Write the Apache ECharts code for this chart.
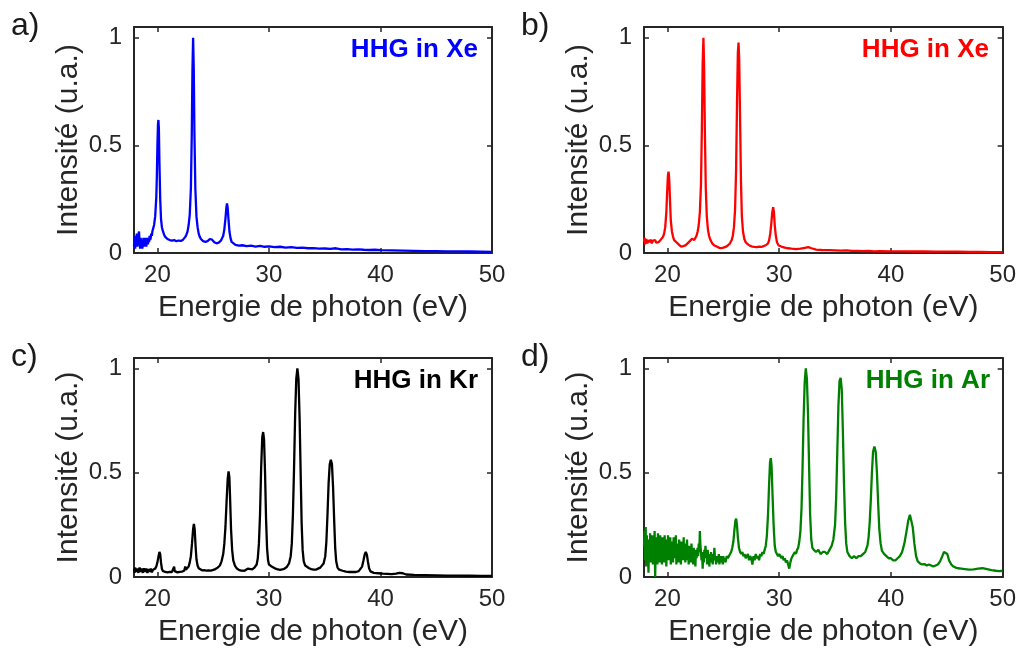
<!DOCTYPE html>
<html>
<head>
<meta charset="utf-8">
<script src="https://cdn.jsdelivr.net/npm/echarts@6/dist/echarts.min.js"></script>
<style>
html,body{margin:0;padding:0;background:#fff;}
#chart{width:1019px;height:648px;}
</style>
</head>
<body>
<div id="chart"></div>
<script>
// ---- Data ----
const panelLetters = ['a)', 'b)', 'c)', 'd)'];
const panelTitles = ['HHG in Xe', 'HHG in Xe', 'HHG in Kr', 'HHG in Ar'];
const panelColors = ['#0000ff', '#ff0000', '#000000', '#008000'];
const xTickValues = [20, 30, 40, 50];
const yTickValues = [0, 0.5, 1];
const xAxisTitle = 'Energie de photon (eV)';
const yAxisTitle = 'Intensité (u.a.)';

// a) HHG in Xe (blue)
const spectrumXeBlue = [
[17.9,0.03],[17.95,0.08],[18.0,0.02],[18.05,0.07],[18.1,0.04],[18.15,0.09],[18.2,0.03],[18.25,0.06],[18.3,0.08],[18.35,0.1],[18.4,0.05],[18.45,0.02],[18.5,0.07],[18.55,0.04],[18.6,0.06],[18.65,0.02],[18.7,0.05],[18.75,0.07],[18.8,0.03],[18.85,0.06],[18.9,0.04],[18.95,0.07],[19.0,0.03],[19.05,0.05],[19.1,0.07],[19.15,0.04],[19.2,0.06],[19.25,0.05],[19.3,0.08],[19.35,0.06],[19.4,0.07],[19.45,0.09],[19.5,0.08],[19.55,0.1],
[19.6,0.11],[19.7,0.13],[19.8,0.17],[19.9,0.26],[19.95,0.36],[20.0,0.5],[20.05,0.6],[20.09,0.618],[20.13,0.58],[20.18,0.42],[20.25,0.25],[20.32,0.16],[20.4,0.12],[20.5,0.1],[20.6,0.085],[20.7,0.075],
[20.8,0.07],[20.9,0.065],[21.0,0.072],[21.1,0.06],[21.2,0.068],[21.3,0.058],[21.4,0.065],[21.5,0.06],[21.6,0.066],[21.7,0.055],[21.8,0.062],[21.9,0.058],[22.0,0.064],[22.1,0.056],[22.2,0.06],[22.3,0.062],[22.4,0.068],[22.5,0.075],[22.6,0.085],[22.7,0.1],[22.8,0.13],[22.9,0.18],[23.0,0.3],[23.08,0.55],[23.14,0.85],[23.2,1.0],[23.26,0.85],[23.32,0.55],[23.4,0.3],[23.5,0.17],[23.6,0.12],[23.7,0.09],[23.8,0.075],[23.9,0.065],
[24.0,0.06],[24.1,0.055],[24.2,0.05],[24.3,0.052],[24.4,0.048],[24.5,0.055],[24.6,0.06],[24.7,0.065],[24.8,0.068],[24.9,0.062],[25.0,0.058],[25.1,0.05],[25.2,0.052],[25.3,0.045],[25.4,0.05],[25.5,0.048],[25.6,0.052],[25.7,0.058],[25.8,0.065],[25.9,0.08],[26.0,0.11],[26.1,0.16],[26.18,0.21],[26.24,0.23],[26.3,0.21],[26.38,0.15],[26.46,0.1],[26.55,0.07],[26.65,0.052],[26.8,0.045],
[27.0,0.038],[27.3,0.034],[27.6,0.036],[28.0,0.032],[28.4,0.034],[28.8,0.03],[29.2,0.033],[29.6,0.029],[30.0,0.031],[30.5,0.027],[31.0,0.029],[31.5,0.025],[32.0,0.027],[32.5,0.024],[33.0,0.025],[33.5,0.022],[34.0,0.023],[34.5,0.02],[35.0,0.021],[35.5,0.019],[36.0,0.022],[36.5,0.017],[37.0,0.018],[37.5,0.016],[38.0,0.017],[38.5,0.015],[39.0,0.014],[39.5,0.015],[40.0,0.013],[41.0,0.012],[42.0,0.011],[43.0,0.01],[44.0,0.009],[45.0,0.009],[46.0,0.008],[47.0,0.008],[48.0,0.007],[49.0,0.006],[50.0,0.005]
];

// b) HHG in Xe (red)
const spectrumXeRed = [
[17.9,0.05],[17.95,0.07],[18.0,0.04],[18.1,0.065],[18.2,0.045],[18.3,0.06],[18.4,0.05],[18.5,0.062],[18.6,0.045],[18.7,0.058],[18.8,0.05],[18.9,0.06],[19.0,0.048],[19.1,0.057],[19.2,0.05],[19.3,0.058],[19.4,0.062],[19.5,0.068],[19.6,0.075],[19.7,0.09],[19.8,0.12],[19.9,0.19],[19.97,0.28],[20.04,0.36],[20.1,0.378],[20.16,0.34],[20.23,0.24],[20.3,0.15],[20.4,0.1],[20.5,0.075],[20.6,0.06],
[20.7,0.055],[20.8,0.05],[20.9,0.045],[21.0,0.04],[21.1,0.035],[21.2,0.03],[21.3,0.028],[21.4,0.032],[21.5,0.03],[21.6,0.035],[21.7,0.04],[21.8,0.045],[21.9,0.05],[22.0,0.055],[22.1,0.06],[22.2,0.066],[22.3,0.058],[22.4,0.06],[22.5,0.068],[22.6,0.08],[22.7,0.1],[22.8,0.13],[22.9,0.19],[23.0,0.32],[23.08,0.58],[23.15,0.88],[23.22,1.0],[23.28,0.86],[23.35,0.56],[23.43,0.3],[23.52,0.17],[23.62,0.11],[23.72,0.08],[23.85,0.06],
[24.0,0.045],[24.2,0.035],[24.4,0.03],[24.6,0.025],[24.8,0.022],[25.0,0.025],[25.2,0.028],[25.4,0.035],[25.6,0.045],[25.75,0.06],[25.85,0.08],[25.95,0.12],[26.05,0.2],[26.14,0.38],[26.22,0.68],[26.3,0.93],[26.36,0.978],[26.42,0.9],[26.5,0.62],[26.58,0.33],[26.66,0.17],[26.76,0.1],[26.88,0.065],[27.0,0.05],
[27.2,0.04],[27.4,0.033],[27.6,0.03],[27.8,0.028],[28.0,0.027],[28.2,0.03],[28.4,0.028],[28.6,0.032],[28.8,0.036],[29.0,0.045],[29.1,0.06],[29.2,0.09],[29.3,0.14],[29.38,0.19],[29.46,0.213],[29.53,0.19],[29.6,0.13],[29.7,0.08],[29.8,0.05],[29.95,0.035],
[30.2,0.03],[30.5,0.025],[30.8,0.022],[31.1,0.02],[31.5,0.018],[31.9,0.02],[32.3,0.024],[32.6,0.027],[32.9,0.022],[33.3,0.016],[33.8,0.014],[34.5,0.013],[35.0,0.012],[35.5,0.011],[36.0,0.012],[36.5,0.01],[37.0,0.01],[37.5,0.009],[38.0,0.01],[38.5,0.008],[39.0,0.009],[40.0,0.008],[41.0,0.008],[42.0,0.007],[43.0,0.007],[44.0,0.006],[45.0,0.006],[46.0,0.006],[47.0,0.005],[48.0,0.005],[49.0,0.004],[50.0,0.004]
];

// c) HHG in Kr (black)
const spectrumKr = [
[17.9,0.04],[17.95,0.02],[18.0,0.045],[18.1,0.025],[18.2,0.04],[18.3,0.02],[18.4,0.045],[18.5,0.025],[18.6,0.04],[18.7,0.02],[18.8,0.042],[18.9,0.025],[19.0,0.04],[19.1,0.02],[19.2,0.038],[19.3,0.025],[19.4,0.04],[19.5,0.022],[19.6,0.035],[19.7,0.03],[19.8,0.04],[19.9,0.05],[20.0,0.07],[20.1,0.1],[20.18,0.12],[20.25,0.11],[20.32,0.07],[20.4,0.04],[20.5,0.028],[20.6,0.035],[20.7,0.025],[20.8,0.03],[20.9,0.022],[21.0,0.03],[21.1,0.025],[21.2,0.032],[21.3,0.024],[21.4,0.03],[21.5,0.05],[21.55,0.028],[21.7,0.03],[21.8,0.022],[21.9,0.028],[22.0,0.025],[22.1,0.03],[22.2,0.026],[22.3,0.035],[22.4,0.03],[22.5,0.05],[22.55,0.035],[22.7,0.04],[22.8,0.05],[22.9,0.07],[23.0,0.1],[23.1,0.16],[23.2,0.23],[23.27,0.255],[23.34,0.23],[23.42,0.15],[23.5,0.085],[23.6,0.055],[23.7,0.042],
[23.8,0.037],[24.0,0.032],[24.2,0.033],[24.4,0.03],[24.6,0.032],[24.8,0.031],[25.0,0.034],[25.2,0.038],[25.4,0.045],[25.6,0.055],[25.75,0.075],[25.9,0.11],[26.0,0.16],[26.1,0.24],[26.2,0.36],[26.3,0.47],[26.38,0.506],[26.45,0.48],[26.52,0.37],[26.6,0.23],[26.7,0.13],[26.8,0.08],[26.95,0.055],[27.1,0.042],
[27.3,0.034],[27.5,0.031],[27.8,0.03],[28.1,0.04],[28.2,0.032],[28.5,0.036],[28.7,0.045],[28.9,0.06],[29.0,0.09],[29.1,0.16],[29.2,0.3],[29.3,0.52],[29.4,0.67],[29.48,0.695],[29.56,0.66],[29.65,0.5],[29.74,0.28],[29.83,0.14],[29.92,0.08],[30.0,0.06],[30.2,0.052],[30.4,0.046],[30.6,0.04],[30.8,0.036],[31.0,0.034],[31.2,0.036],[31.4,0.04],[31.6,0.048],[31.8,0.065],[31.95,0.1],[32.05,0.16],[32.15,0.3],[32.25,0.52],[32.35,0.78],[32.45,0.95],[32.55,1.0],[32.65,0.95],[32.75,0.76],[32.85,0.48],[32.93,0.26],[33.02,0.13],[33.12,0.075],[33.25,0.055],[33.4,0.047],[33.6,0.042],[33.8,0.038],[34.0,0.035],[34.2,0.035],[34.4,0.04],[34.6,0.045],[34.75,0.052],[34.9,0.065],[35.05,0.1],[35.15,0.17],[35.25,0.3],[35.35,0.45],[35.45,0.54],[35.55,0.5625],[35.65,0.54],[35.75,0.43],[35.85,0.27],[35.94,0.14],[36.03,0.075],[36.15,0.045],[36.3,0.035],[36.6,0.03],[36.9,0.026],[37.2,0.024],[37.5,0.025],[37.8,0.024],[38.05,0.028],[38.2,0.035],[38.35,0.05],[38.48,0.08],[38.58,0.107],[38.68,0.12],[38.78,0.107],[38.88,0.072],[38.98,0.042],[39.1,0.027],[39.4,0.02],[39.8,0.018],[40.2,0.016],[40.6,0.015],[41.0,0.014],[41.4,0.016],[41.7,0.02],[41.85,0.022],[42.0,0.018],[42.3,0.012],[43.0,0.01],[44.0,0.009],[45.0,0.008],[46.0,0.007],[47.0,0.007],[48.0,0.006],[49.0,0.005],[50.0,0.005]
];

// d) HHG in Ar (green)
const spectrumAr = [
[17.9,0.15],[17.96,0.22],[18.0,0.08],[18.05,0.24],[18.1,0.05],[18.15,0.2],[18.2,0.1],[18.25,0.18],[18.3,0.02],[18.35,0.16],[18.4,0.08],[18.45,0.21],[18.5,0.07],[18.55,0.17],[18.6,0.12],[18.65,0.2],[18.7,0.06],[18.75,0.15],[18.8,0.09],[18.85,0.22],[18.9,0.0],[18.95,0.14],[19.0,0.1],[19.05,0.19],[19.1,0.06],[19.15,0.21],[19.2,0.09],[19.25,0.16],[19.3,0.07],[19.35,0.2],[19.4,0.1],[19.45,0.17],[19.5,0.06],[19.55,0.19],[19.6,0.11],[19.65,0.15],[19.7,0.07],[19.75,0.2],[19.8,0.1],[19.85,0.16],[19.9,0.05],[19.95,0.18],[20.0,0.09],[20.05,0.2],[20.1,0.08],[20.15,0.15],[20.2,0.11],[20.25,0.19],[20.3,0.06],[20.35,0.17],[20.4,0.1],[20.45,0.14],[20.5,0.07],[20.55,0.19],[20.6,0.09],[20.65,0.15],[20.7,0.11],[20.75,0.2],[20.8,0.06],[20.85,0.16],[20.9,0.1],[20.95,0.13],[21.0,0.07],[21.05,0.18],[21.1,0.09],[21.15,0.15],[21.2,0.06],[21.25,0.17],[21.3,0.1],[21.35,0.14],[21.4,0.08],[21.45,0.19],[21.5,0.09],[21.55,0.13],[21.6,0.07],[21.65,0.16],[21.7,0.1],[21.75,0.18],[21.8,0.08],[21.85,0.14],[21.9,0.06],[21.95,0.15],[22.0,0.09],[22.05,0.13],[22.1,0.07],[22.15,0.16],[22.2,0.1],[22.25,0.12],[22.3,0.06],[22.35,0.14],[22.4,0.08],[22.45,0.12],[22.5,0.05],[22.55,0.13],[22.6,0.09],[22.7,0.14],[22.75,0.1],[22.8,0.16],[22.85,0.12],[22.9,0.22],[22.95,0.15],[23.0,0.12],[23.05,0.08],[23.1,0.12],[23.15,0.04],[23.2,0.11],[23.25,0.07],[23.3,0.13],[23.35,0.09],[23.4,0.15],[23.45,0.1],[23.5,0.12],[23.55,0.06],[23.6,0.13],[23.65,0.08],[23.7,0.11],[23.75,0.05],[23.8,0.1],[23.85,0.07],[23.9,0.12],[23.95,0.08],[24.0,0.1],[24.05,0.06],[24.1,0.11],[24.15,0.08],[24.2,0.14],[24.25,0.09],[24.3,0.1],[24.35,0.06],[24.4,0.09],[24.45,0.07],[24.5,0.1],[24.55,0.08],[24.6,0.11],[24.65,0.06],[24.7,0.09],[24.75,0.07],[24.8,0.1],[24.85,0.08],[24.9,0.09],[24.95,0.06],[25.0,0.1],[25.05,0.08],[25.1,0.09],[25.2,0.07],[25.3,0.1],[25.4,0.09],[25.5,0.1],[25.6,0.11],[25.7,0.12],[25.8,0.14],[25.9,0.17],[26.0,0.23],[26.08,0.27],[26.15,0.28],[26.22,0.25],[26.3,0.19],[26.4,0.14],[26.5,0.12],[26.6,0.11],[26.7,0.12],[26.8,0.1],[26.9,0.11],[27.0,0.09],[27.1,0.1],[27.2,0.11],[27.3,0.08],[27.4,0.1],[27.5,0.09],[27.6,0.06],[27.7,0.1],[27.8,0.08],[27.9,0.11],[28.0,0.09],[28.1,0.1],[28.2,0.08],[28.3,0.11],[28.4,0.1],[28.5,0.12],[28.6,0.11],[28.7,0.13],[28.8,0.15],[28.9,0.2],[29.0,0.3],[29.1,0.45],[29.18,0.55],[29.25,0.57],[29.32,0.53],[29.4,0.4],[29.5,0.25],[29.6,0.15],[29.7,0.12],[29.8,0.11],[29.9,0.1],[30.0,0.11],[30.1,0.1],[30.2,0.09],[30.3,0.1],[30.4,0.08],[30.5,0.09],[30.6,0.07],[30.7,0.08],[30.8,0.06],[30.9,0.04],[31.0,0.07],[31.1,0.09],[31.2,0.1],[31.3,0.11],[31.4,0.12],[31.5,0.11],[31.6,0.13],[31.7,0.14],[31.8,0.17],[31.9,0.22],[32.0,0.33],[32.08,0.5],[32.18,0.75],[32.28,0.93],[32.38,1.0],[32.48,0.95],[32.58,0.78],[32.68,0.52],[32.77,0.3],[32.87,0.18],[32.97,0.14],[33.1,0.13],[33.3,0.12],[33.5,0.13],[33.7,0.11],[33.9,0.12],[34.1,0.12],[34.3,0.11],[34.5,0.13],[34.7,0.15],[34.85,0.18],[35.0,0.25],[35.1,0.38],[35.2,0.6],[35.3,0.82],[35.4,0.94],[35.5,0.955],[35.6,0.9],[35.7,0.7],[35.8,0.45],[35.9,0.26],[36.0,0.16],[36.1,0.12],[36.3,0.1],[36.5,0.09],[36.7,0.1],[36.9,0.09],[37.1,0.1],[37.3,0.1],[37.5,0.11],[37.7,0.12],[37.9,0.15],[38.0,0.19],[38.1,0.26],[38.2,0.37],[38.3,0.5],[38.4,0.6],[38.52,0.626],[38.64,0.6],[38.75,0.5],[38.86,0.35],[38.96,0.23],[39.08,0.16],[39.2,0.125],[39.4,0.11],[39.6,0.1],[39.8,0.09],[40.0,0.09],[40.2,0.08],[40.4,0.08],[40.6,0.09],[40.8,0.1],[41.0,0.12],[41.2,0.16],[41.4,0.22],[41.55,0.27],[41.7,0.298],[41.82,0.29],[41.95,0.24],[42.1,0.16],[42.25,0.1],[42.4,0.075],[42.6,0.065],[42.8,0.06],[43.0,0.062],[43.2,0.055],[43.4,0.06],[43.6,0.055],[43.8,0.05],[44.0,0.055],[44.2,0.06],[44.4,0.075],[44.6,0.1],[44.75,0.12],[44.9,0.127],[45.05,0.11],[45.2,0.08],[45.4,0.06],[45.6,0.05],[45.8,0.045],[46.0,0.042],[46.3,0.04],[46.6,0.038],[47.0,0.035],[47.4,0.037],[47.8,0.04],[48.2,0.042],[48.6,0.038],[49.0,0.033],[49.4,0.03],[49.7,0.028],[50.0,0.03]
];

const spectra = [spectrumXeBlue, spectrumXeRed, spectrumKr, spectrumAr];

// ---- Layout ----
const grids = [
  {left: 134, top: 27, width: 358, height: 226},
  {left: 644, top: 27, width: 359, height: 226},
  {left: 134, top: 358, width: 358, height: 226},
  {left: 644, top: 358, width: 360, height: 227}
];
const AX = '#262626';
const FONT = '"Liberation Sans", Arial, sans-serif';
const X_MIN = 17.9, X_MAX = 50, Y_MIN = 0, Y_MAX = 1.05;

const xAxes = [], yAxes = [], series = [], graphics = [];
grids.forEach((g, i) => {
  const line = {show: true, onZero: false, lineStyle: {color: AX, width: 2}};
  const tickStyle = {color: AX, width: 1.5};
  xAxes.push({
    type: 'value', gridIndex: i, position: 'bottom', min: X_MIN, max: X_MAX,
    axisLine: line,
    axisTick: {show: true, inside: true, length: 5, customValues: xTickValues.slice(0, 3), lineStyle: tickStyle},
    axisLabel: {show: true, customValues: xTickValues, margin: 10, fontSize: 24, fontFamily: FONT, color: AX},
    splitLine: {show: false},
    name: xAxisTitle, nameLocation: 'middle', nameGap: 40,
    nameTextStyle: {fontSize: 30, fontFamily: FONT, color: AX}
  });
  xAxes.push({
    type: 'value', gridIndex: i, position: 'top', min: X_MIN, max: X_MAX,
    axisLine: line,
    axisTick: {show: true, inside: true, length: 5, customValues: xTickValues.slice(0, 3), lineStyle: tickStyle},
    axisLabel: {show: false}, splitLine: {show: false}
  });
  yAxes.push({
    type: 'value', gridIndex: i, position: 'left', min: Y_MIN, max: Y_MAX,
    axisLine: line,
    axisTick: {show: true, inside: true, length: 5, customValues: yTickValues.slice(1), lineStyle: tickStyle},
    axisLabel: {show: true, customValues: yTickValues, margin: 12, fontSize: 24, fontFamily: FONT, color: AX,
      formatter: v => String(v)},
    splitLine: {show: false},
    name: yAxisTitle, nameLocation: 'middle', nameGap: 50, nameRotate: 90,
    nameTextStyle: {fontSize: 30, fontFamily: FONT, color: AX}
  });
  yAxes.push({
    type: 'value', gridIndex: i, position: 'right', min: Y_MIN, max: Y_MAX,
    axisLine: line,
    axisTick: {show: true, inside: true, length: 5, customValues: yTickValues.slice(1), lineStyle: tickStyle},
    axisLabel: {show: false}, splitLine: {show: false}
  });
  series.push({
    type: 'line', xAxisIndex: 2 * i, yAxisIndex: 2 * i,
    data: spectra[i], showSymbol: false, symbol: 'none', smooth: false,
    lineStyle: {color: panelColors[i], width: 2.3}, itemStyle: {color: panelColors[i]},
    silent: true, clip: true
  });
  graphics.push({
    type: 'text', left: (i % 2 === 0) ? 11 : 521, top: (i < 2) ? 10 : 341,
    style: {text: panelLetters[i], font: '32px ' + FONT, fill: '#1a1a1a'}
  });
  graphics.push({
    type: 'text', right: 1019 - (g.left + g.width - 14), top: g.top + 10,
    style: {text: panelTitles[i], font: 'bold 26px ' + FONT, fill: panelColors[i]}
  });
});

const chart = echarts.init(document.getElementById('chart'), null, {renderer: 'canvas'});
chart.setOption({
  animation: false,
  backgroundColor: '#ffffff',
  grid: grids.map(g => Object.assign({containLabel: false}, g)),
  xAxis: xAxes,
  yAxis: yAxes,
  series: series,
  graphic: graphics
});
</script>
</body>
</html>
